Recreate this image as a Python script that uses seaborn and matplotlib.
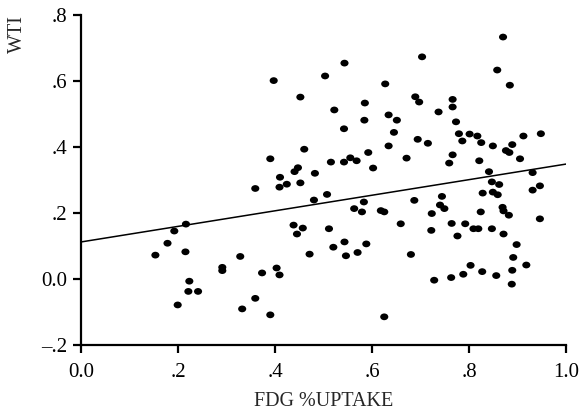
import numpy as np
import pandas as pd
import matplotlib
matplotlib.use('Agg')
import matplotlib.pyplot as plt
from matplotlib.path import Path
import seaborn as sns

# values
fdg_uptake = [
    0.397, 0.452, 0.503, 0.543, 0.522, 0.585, 0.584, 0.542, 0.627, 0.634,
    0.651, 0.645, 0.634, 0.671, 0.460, 0.390, 0.515, 0.542, 0.555, 0.568,
    0.592, 0.602, 0.482, 0.447, 0.440, 0.410, 0.424, 0.409, 0.452, 0.359,
    0.870, 0.703, 0.858, 0.884, 0.689, 0.697, 0.766, 0.766, 0.737, 0.773,
    0.779, 0.786, 0.801, 0.817, 0.825, 0.849, 0.694, 0.715, 0.766, 0.759,
    0.821, 0.876, 0.883, 0.889, 0.912, 0.948, 0.905, 0.841, 0.931, 0.847,
    0.862, 0.946,
    0.931, 0.828, 0.849, 0.859, 0.687, 0.744, 0.740, 0.749, 0.723, 0.824,
    0.869, 0.871, 0.882, 0.946, 0.764, 0.792, 0.809, 0.819, 0.847, 0.871,
    0.722, 0.776, 0.898, 0.680, 0.891, 0.803, 0.918, 0.827, 0.889, 0.788,
    0.856, 0.763, 0.728, 0.888,
    0.507, 0.480, 0.583, 0.563, 0.579, 0.618, 0.625, 0.659, 0.438, 0.457,
    0.445, 0.511, 0.543, 0.520, 0.588, 0.570, 0.546, 0.471, 0.328, 0.373,
    0.403, 0.409, 0.359, 0.332, 0.390, 0.625,
    0.216, 0.192, 0.178, 0.153, 0.215, 0.291, 0.291, 0.223, 0.221, 0.241,
    0.199,
]
wti = [
    0.601, 0.551, 0.615, 0.654, 0.512, 0.533, 0.481, 0.455, 0.591, 0.497,
    0.481, 0.444, 0.403, 0.366, 0.393, 0.364, 0.354, 0.354, 0.367, 0.358,
    0.383, 0.336, 0.320, 0.337, 0.325, 0.308, 0.287, 0.278, 0.291, 0.274,
    0.733, 0.673, 0.633, 0.587, 0.552, 0.536, 0.544, 0.521, 0.506, 0.476,
    0.440, 0.418, 0.439, 0.433, 0.413, 0.403, 0.423, 0.411, 0.376, 0.351,
    0.358, 0.389, 0.383, 0.407, 0.433, 0.440, 0.364, 0.325, 0.322, 0.294,
    0.286, 0.282,
    0.269, 0.260, 0.263, 0.255, 0.238, 0.250, 0.224, 0.213, 0.198, 0.203,
    0.217, 0.206, 0.193, 0.182, 0.168, 0.167, 0.152, 0.152, 0.152, 0.136,
    0.147, 0.130, 0.104, 0.074, 0.065, 0.041, 0.042, 0.022, 0.026, 0.014,
    0.010, 0.004, -0.004, -0.016,
    0.256, 0.239, 0.233, 0.213, 0.203, 0.207, 0.203, 0.167, 0.163, 0.154,
    0.136, 0.152, 0.112, 0.096, 0.106, 0.080, 0.070, 0.075, 0.068, 0.018,
    0.033, 0.012, -0.059, -0.091, -0.109, -0.115,
    0.166, 0.145, 0.108, 0.072, 0.082, 0.035, 0.025, -0.007, -0.038, -0.038,
    -0.079,
]

# fitted line ends (x = 0 and x = 1)
fit_x = [0.0, 1.0]
fit_y = [0.112, 0.348]

x_ticks = [0.0, 0.2, 0.4, 0.6, 0.8, 1.0]
x_tick_labels = ['0.0', '.2', '.4', '.6', '.8', '1.0']
y_ticks = [-0.2, 0.0, 0.2, 0.4, 0.6, 0.8]
y_tick_labels = ['\u2013.2', '0.0', '.2', '.4', '.6', '.8']

sns.set_style('ticks')
plt.rcParams['font.family'] = ['Liberation Serif', 'DejaVu Serif']

df = pd.DataFrame({'fdg': fdg_uptake, 'wti': wti})

# the printed dots are a little wider than tall
circle = Path.unit_circle()
dot = Path(circle.vertices * np.array([1.2, 1.0]), circle.codes)

fig = plt.figure(figsize=(5.8, 4.15), dpi=100)
ax = fig.add_axes([0.140, 0.169, 0.836, 0.795])

sns.scatterplot(data=df, x='fdg', y='wti', color='black', s=34,
                marker=dot, edgecolor='none', ax=ax)
sns.lineplot(x=fit_x, y=fit_y, color='black', linewidth=1.1, ax=ax)

ax.set_xlim(0, 1.0)
ax.set_ylim(-0.2, 0.8)
ax.set_xticks(x_ticks)
ax.set_xticklabels(x_tick_labels)
ax.set_yticks(y_ticks)
ax.set_yticklabels(y_tick_labels)

sns.despine(ax=ax)
for side in ['left', 'bottom']:
    ax.spines[side].set_linewidth(1.6)
    ax.spines[side].set_color('black')

ax.tick_params(axis='x', direction='out', length=6, width=1.6,
               labelsize=15, colors='black', pad=7)
ax.tick_params(axis='y', direction='out', length=6, width=1.6,
               labelsize=15, colors='black', pad=4)

ax.set_xlabel('FDG %UPTAKE', fontsize=14.5, labelpad=7)
ax.set_ylabel('WTI', fontsize=14.5, loc='top')
ax.yaxis.set_label_coords(-0.112, 1.0)

fig.savefig('out.png', dpi=100)
plt.close(fig)
